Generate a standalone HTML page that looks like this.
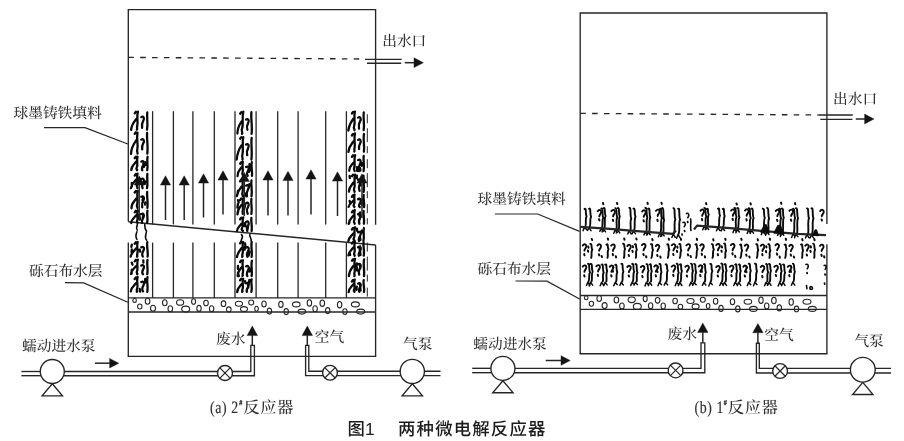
<!DOCTYPE html>
<html lang="zh-CN">
<head>
<meta charset="utf-8">
<title>图1 两种微电解反应器</title>
<style>
html,body{margin:0;padding:0;background:#fff;}
body{width:904px;height:441px;overflow:hidden;}
svg{display:block;}
svg text{text-rendering:geometricPrecision;}
body{will-change:transform;opacity:0.9999;}
svg line, svg polyline, svg circle, svg ellipse{stroke:#262626;}
.lab{font-family:"Liberation Serif","Noto Serif CJK SC",serif;fill:#303030;font-weight:500;}
.cap{font-family:"Liberation Serif","Noto Serif CJK SC",serif;fill:#2e2e2e;font-weight:500;}
.capl{font-weight:400;stroke:#2e2e2e;stroke-width:0.15;}
.ttl{font-family:"Liberation Sans","Noto Sans CJK SC",sans-serif;fill:#1c1c1c;font-weight:500;}
</style>
</head>
<body>
<svg width="904" height="441" viewBox="0 0 904 441">
<rect x="0" y="0" width="904" height="441" fill="#fff"/>
<g id="left">
<polyline points="128.30,221.50 128.30,9.65 375.60,9.65 375.60,224.80" fill="none" stroke-width="1.35" />
<line x1="128.30" y1="242.50" x2="128.30" y2="356.40" stroke-width="1.35" />
<line x1="375.60" y1="245.00" x2="375.60" y2="356.40" stroke-width="1.35" />
<line x1="128.30" y1="221.70" x2="375.60" y2="245.00" stroke-width="1.45" />
<line x1="128.30" y1="57.40" x2="365.50" y2="59.00" stroke-width="1.35" stroke-dasharray="5.6 6.26"/>
<line x1="365.00" y1="59.40" x2="401.70" y2="59.40" stroke-width="1.35" />
<line x1="367.00" y1="63.20" x2="401.20" y2="63.20" stroke-width="1.35" />
<polygon points="423.40,62.70 414.00,57.80 414.00,67.60" fill="#141414" stroke="#141414" stroke-width="0.4" stroke-linejoin="miter"/>
<line x1="404.80" y1="62.70" x2="414.50" y2="62.70" stroke-width="1.5" />
<line x1="152.60" y1="111.20" x2="152.60" y2="224.40" stroke-width="1.3" />
<line x1="152.60" y1="242.60" x2="152.60" y2="297.90" stroke-width="1.3" />
<line x1="173.40" y1="111.20" x2="173.40" y2="224.40" stroke-width="1.3" />
<line x1="173.40" y1="242.60" x2="173.40" y2="297.90" stroke-width="1.3" />
<line x1="192.90" y1="111.20" x2="192.90" y2="224.40" stroke-width="1.3" />
<line x1="192.90" y1="242.60" x2="192.90" y2="297.90" stroke-width="1.3" />
<line x1="214.30" y1="111.20" x2="214.30" y2="224.40" stroke-width="1.3" />
<line x1="214.30" y1="242.60" x2="214.30" y2="297.90" stroke-width="1.3" />
<line x1="235.00" y1="111.20" x2="235.00" y2="224.40" stroke-width="1.3" />
<line x1="235.00" y1="242.60" x2="235.00" y2="297.90" stroke-width="1.3" />
<line x1="256.10" y1="111.20" x2="256.10" y2="224.40" stroke-width="1.3" />
<line x1="256.10" y1="242.60" x2="256.10" y2="297.90" stroke-width="1.3" />
<line x1="277.70" y1="111.20" x2="277.70" y2="224.40" stroke-width="1.3" />
<line x1="277.70" y1="242.60" x2="277.70" y2="297.90" stroke-width="1.3" />
<line x1="298.10" y1="111.20" x2="298.10" y2="224.40" stroke-width="1.3" />
<line x1="298.10" y1="242.60" x2="298.10" y2="297.90" stroke-width="1.3" />
<line x1="325.70" y1="111.20" x2="325.70" y2="224.40" stroke-width="1.3" />
<line x1="325.70" y1="242.60" x2="325.70" y2="297.90" stroke-width="1.3" />
<line x1="346.40" y1="111.20" x2="346.40" y2="224.40" stroke-width="1.3" />
<line x1="346.40" y1="242.60" x2="346.40" y2="297.90" stroke-width="1.3" />
<line x1="367.30" y1="114.20" x2="367.30" y2="224.40" stroke-width="1.0" stroke-dasharray="9 5 14 4 7 6"/>
<line x1="367.30" y1="242.60" x2="367.30" y2="297.90" stroke-width="1.0" stroke-dasharray="9 5 14 4 7 6"/>
<path d="M137.9,111.6 C136.3,117.1 138.3,122.0 137.3,125.4 S138.0,128.7 136.8,129.7 M134.7,113.4 l1.2,-1.6 M136.3,119.0 C134.5,121.5 131.2,124.3 131.2,130.0 M141.3,117.1 C143.5,115.5 144.7,118.3 143.3,120.7 S141.5,124.1 142.1,127.8 M147.3,112.5 C146.5,117.1 148.3,123.0 147.0,129.7 M137.5,132.6 C136.3,139.0 138.3,144.6 137.4,148.5 S138.0,152.6 137.5,153.6 M134.7,133.9 l1.2,-1.6 M136.3,140.2 C134.5,142.7 131.2,146.9 131.0,154.0 M141.3,139.6 C143.5,138.0 144.7,140.8 143.3,143.2 S141.5,146.6 142.2,149.4 M147.1,132.9 C146.5,139.0 148.3,145.7 147.3,153.6 M137.5,156.6 C136.3,160.7 138.3,164.5 136.8,167.1 S138.0,169.2 137.0,170.2 M134.7,158.2 l1.2,-1.6 M136.3,161.5 C134.5,164.0 131.2,165.8 131.3,170.2 M141.3,161.6 C143.5,160.0 144.7,162.8 143.3,165.2 S141.5,168.6 142.2,170.2 M147.6,156.8 C146.5,160.7 148.3,165.3 147.2,170.2 M145.2,162.3 l0.7,2.4 M143.3,163.2 l0.6,3.7 M145.2,163.2 l-0.7,2.5 M137.5,173.6 C136.3,178.0 138.3,182.1 137.1,184.8 S138.0,187.1 137.3,188.1 M134.7,175.6 l1.2,-1.6 M136.3,179.5 C134.5,182.0 131.2,183.8 130.9,188.1 M141.3,179.1 C143.5,177.5 144.7,180.3 143.3,182.7 S141.5,186.1 142.6,188.1 M147.4,173.8 C146.5,178.0 148.3,182.9 147.0,188.1 M145.2,181.4 l-0.5,2.5 M131.8,182.8 l0.1,3.7 M139.7,178.7 l-0.2,3.7 M137.8,190.9 C136.3,196.0 138.3,200.7 137.2,203.8 S138.0,206.8 137.3,207.8 M134.7,192.5 l1.2,-1.6 M136.3,198.5 C134.5,201.0 131.2,203.2 131.5,208.3 M141.3,196.8 C143.5,195.2 144.7,198.0 143.3,200.4 S141.5,203.8 142.2,207.3 M147.2,191.9 C146.5,196.0 148.3,201.6 147.4,207.8 M143.3,199.2 l-0.5,3.0 M145.2,202.5 l-0.1,2.0 M143.3,197.7 l-0.8,2.5 M137.9,210.3 C136.3,214.2 138.3,217.7 137.3,220.1 S138.0,221.9 137.4,222.9 M134.7,212.4 l1.2,-1.6 M136.3,215.2 C134.5,217.7 131.2,219.1 131.3,223.1 M141.3,214.1 C143.5,212.5 144.7,215.3 143.3,217.7 S141.5,221.1 142.0,222.9 M147.5,210.6 C146.5,214.2 148.3,218.4 147.1,222.9 M139.7,214.1 l-0.7,2.3 M139.7,216.9 l0.2,2.6 M143.3,215.5 l-0.6,2.6" fill="none" stroke="#0a0a0a" stroke-width="2.3" stroke-linecap="round" stroke-linejoin="round"/>
<path d="M137.7,242.0 C136.3,246.5 138.3,250.5 137.4,253.3 S138.0,255.7 137.0,256.7 M134.7,243.8 l1.2,-1.6 M136.3,248.2 C134.5,250.7 131.2,252.5 130.7,256.7 M141.3,247.3 C143.5,245.7 144.7,248.5 143.3,250.9 S141.5,254.3 142.8,256.5 M147.3,242.2 C146.5,246.5 148.3,251.4 147.6,256.7 M131.8,249.3 l-0.2,2.9 M139.7,249.6 l0.5,2.1 M131.8,244.7 l-0.4,2.1 M137.9,259.6 C136.3,264.1 138.3,268.1 137.1,270.9 S138.0,273.2 137.2,274.2 M134.7,261.4 l1.2,-1.6 M136.3,265.9 C134.5,268.4 131.2,270.1 131.0,274.0 M141.3,265.5 C143.5,263.9 144.7,266.7 143.3,269.1 S141.5,272.5 143.0,274.2 M147.5,260.0 C146.5,264.1 148.3,268.9 147.2,274.2 M143.3,260.5 l0.1,2.2 M131.8,269.7 l-0.2,3.9 M131.8,262.6 l0.7,2.1 M137.6,277.0 C136.3,281.5 138.3,285.6 137.1,288.4 S138.0,290.8 136.8,291.8 M134.7,279.0 l1.2,-1.6 M136.3,282.9 C134.5,285.4 131.2,287.3 130.8,291.3 M141.3,282.0 C143.5,280.4 144.7,283.2 143.3,285.6 S141.5,289.0 143.0,291.3 M147.5,277.1 C146.5,281.5 148.3,286.4 147.3,291.8 M145.2,279.6 l0.1,2.9 M139.7,288.8 l0.4,2.8 M145.2,278.9 l-0.1,2.4" fill="none" stroke="#0a0a0a" stroke-width="2.3" stroke-linecap="round" stroke-linejoin="round"/>
<path d="M137.3,224.6 C136.8,226.4 135.8,228.2 137.2,230.1 M136.9,231.8 C135.9,234.3 135.0,236.7 136.9,239.3 M144.7,224.6 C144.7,226.8 144.7,229.0 146.5,231.3 M146.3,232.2 C146.2,234.8 144.0,237.5 146.7,240.2" fill="none" stroke="#0a0a0a" stroke-width="1.6" stroke-linecap="round"/>
<path d="M243.3,111.6 C241.7,118.3 243.7,124.3 242.1,128.3 S243.4,132.8 242.0,133.8 M240.1,113.7 l1.2,-1.6 M241.7,121.3 C239.9,123.8 237.4,127.5 237.4,133.6 M246.1,119.5 C248.3,117.9 249.5,120.7 248.1,123.1 S246.3,126.5 247.4,129.7 M251.4,112.1 C250.7,118.3 252.5,125.5 251.6,133.8 M243.3,137.1 C241.7,143.9 243.7,149.9 242.5,154.0 S243.4,158.5 242.4,159.5 M240.1,138.7 l1.2,-1.6 M241.7,145.2 C239.9,147.7 237.4,152.4 236.7,159.5 M246.1,144.5 C248.3,142.9 249.5,145.7 248.1,148.1 S246.3,151.5 247.2,155.2 M251.7,137.8 C250.7,143.9 252.5,151.1 251.4,159.5 M242.8,161.7 C241.7,166.0 243.7,169.9 242.5,172.6 S243.4,174.8 243.0,175.8 M240.1,163.7 l1.2,-1.6 M241.7,167.1 C239.9,169.6 237.4,171.4 237.6,176.1 M246.1,167.0 C248.3,165.4 249.5,168.2 248.1,170.6 S246.3,174.0 247.7,175.8 M251.8,162.2 C250.7,166.0 252.5,170.7 252.0,175.8 M249.4,164.1 l0.4,3.4 M249.4,169.3 l-0.4,2.6 M249.4,167.7 l0.5,2.7 M243.0,179.4 C241.7,184.5 243.7,189.2 242.5,192.3 S243.4,195.3 242.9,196.3 M240.1,181.4 l1.2,-1.6 M241.7,186.4 C239.9,188.9 237.4,191.3 236.9,196.1 M246.1,185.6 C248.3,184.0 249.5,186.8 248.1,189.2 S246.3,192.6 246.9,196.3 M251.5,180.4 C250.7,184.5 252.5,190.1 251.5,196.3 M249.4,184.2 l-0.5,3.0 M238.0,190.6 l-0.3,2.0 M245.1,193.4 l-0.6,3.1 M243.2,198.6 C241.7,203.3 243.7,207.5 242.8,210.4 S243.4,212.9 242.7,213.9 M240.1,200.0 l1.2,-1.6 M241.7,204.6 C239.9,207.1 237.4,209.2 237.5,214.4 M246.1,203.2 C248.3,201.6 249.5,204.4 248.1,206.8 S246.3,210.2 247.7,213.7 M251.4,199.0 C250.7,203.3 252.5,208.3 251.4,213.9 M238.0,200.2 l0.7,2.1 M238.0,203.6 l-0.6,3.9 M245.1,205.4 l-0.8,3.2 M243.3,217.4 C241.7,221.6 243.7,225.4 242.1,228.0 S243.4,230.0 242.9,231.0 M240.1,219.3 l1.2,-1.6 M241.7,223.5 C239.9,226.0 237.4,227.2 237.0,231.0 M246.1,221.9 C248.3,220.3 249.5,223.1 248.1,225.5 S246.3,228.9 247.3,231.0 M251.4,217.8 C250.7,221.6 252.5,226.1 251.6,231.0 M245.1,222.8 l-0.4,3.3 M248.1,226.6 l-0.8,3.6 M245.1,223.3 l0.4,3.0" fill="none" stroke="#0a0a0a" stroke-width="2.3" stroke-linecap="round" stroke-linejoin="round"/>
<path d="M243.2,242.0 C241.7,246.5 243.7,250.6 242.6,253.4 S243.4,255.8 242.1,256.8 M240.1,243.3 l1.2,-1.6 M241.7,247.9 C239.9,250.4 237.4,252.4 237.0,257.1 M246.1,247.5 C248.3,245.9 249.5,248.7 248.1,251.1 S246.3,254.5 247.4,256.8 M251.7,242.2 C250.7,246.5 252.5,251.4 251.6,256.8 M245.1,246.5 l-0.5,3.2 M245.1,243.4 l0.3,2.7 M249.4,251.7 l-0.7,3.8 M242.9,260.3 C241.7,265.1 243.7,269.4 242.9,272.3 S243.4,275.0 242.4,276.0 M240.1,262.0 l1.2,-1.6 M241.7,267.1 C239.9,269.6 237.4,271.5 237.7,276.0 M246.1,266.4 C248.3,264.8 249.5,267.6 248.1,270.0 S246.3,273.4 247.3,276.0 M251.9,260.9 C250.7,265.1 252.5,270.3 251.6,276.0 M238.0,265.8 l-0.1,3.2 M249.4,268.4 l0.1,3.3 M238.0,272.8 l0.8,3.3 M243.2,278.8 C241.7,282.8 243.7,286.4 242.6,288.9 S243.4,290.8 242.1,291.8 M240.1,280.3 l1.2,-1.6 M241.7,284.0 C239.9,286.5 237.4,287.9 237.2,292.1 M246.1,283.3 C248.3,281.7 249.5,284.5 248.1,286.9 S246.3,290.3 246.8,291.8 M251.6,279.4 C250.7,282.8 252.5,287.1 251.4,291.8 M249.4,279.8 l-0.5,3.2 M245.1,281.1 l0.3,2.1 M248.1,284.2 l0.2,3.5" fill="none" stroke="#0a0a0a" stroke-width="2.3" stroke-linecap="round" stroke-linejoin="round"/>
<path d="M241.4,234.6 C244.2,236.7 241.1,238.9 241.1,241.1 M249.8,234.6 C249.2,236.7 252.0,238.9 251.1,241.1" fill="none" stroke="#0a0a0a" stroke-width="1.6" stroke-linecap="round"/>
<path d="M354.9,111.6 C353.5,117.3 355.5,122.3 354.2,125.7 S355.2,129.2 354.4,130.2 M351.9,113.5 l1.2,-1.6 M353.5,118.4 C351.7,120.9 349.0,124.3 348.3,130.5 M358.1,117.6 C360.3,116.0 361.5,118.8 360.1,121.2 S358.3,124.6 359.0,128.6 M363.8,112.5 C362.9,117.3 364.7,123.3 363.7,130.2 M355.0,133.4 C353.5,138.9 355.5,143.9 354.6,147.2 S355.2,150.6 354.3,151.6 M351.9,135.5 l1.2,-1.6 M353.5,141.3 C351.7,143.8 349.0,146.4 348.4,151.8 M358.1,139.9 C360.3,138.3 361.5,141.1 360.1,143.5 S358.3,146.9 359.1,149.0 M364.0,134.0 C362.9,138.9 364.7,144.9 363.9,151.6 M355.1,155.2 C353.5,160.0 355.5,164.4 354.2,167.4 S355.2,170.1 354.6,171.1 M351.9,156.9 l1.2,-1.6 M353.5,162.6 C351.7,165.1 349.0,166.9 349.2,170.7 M358.1,160.1 C360.3,158.5 361.5,161.3 360.1,163.7 S358.3,167.1 359.0,171.0 M363.7,155.9 C362.9,160.0 364.7,165.3 363.6,171.1 M361.6,163.0 l0.1,2.8 M356.9,167.1 l0.3,3.9 M360.1,168.2 l0.3,2.3 M355.1,174.7 C353.5,180.0 355.5,184.7 354.3,187.9 S355.2,190.9 354.5,191.9 M351.9,176.2 l1.2,-1.6 M353.5,182.5 C351.7,185.0 349.0,187.2 348.9,191.7 M358.1,179.9 C360.3,178.3 361.5,181.1 360.1,183.5 S358.3,186.9 359.6,190.9 M363.5,175.6 C362.9,180.0 364.7,185.6 363.7,191.9 M356.9,175.6 l-0.1,2.8 M349.6,175.9 l0.2,2.1 M360.1,182.9 l0.7,2.6 M354.6,194.5 C353.5,198.4 355.5,201.9 354.0,204.3 S355.2,206.1 354.3,207.1 M351.9,196.8 l1.2,-1.6 M353.5,200.5 C351.7,203.0 349.0,203.8 348.6,206.9 M358.1,199.2 C360.3,197.6 361.5,200.4 360.1,202.8 S358.3,206.2 359.8,207.1 M363.7,194.8 C362.9,198.4 364.7,202.6 364.1,207.1 M361.6,199.3 l0.0,3.3 M349.6,200.8 l0.7,3.0 M361.6,200.9 l0.3,3.9 M354.8,210.0 C353.5,214.2 355.5,218.0 354.2,220.6 S355.2,222.7 354.6,223.7 M351.9,212.3 l1.2,-1.6 M353.5,215.4 C351.7,217.9 349.0,219.6 348.7,223.8 M358.1,214.2 C360.3,212.6 361.5,215.4 360.1,217.8 S358.3,221.2 359.4,223.7 M363.7,211.0 C362.9,214.2 364.7,218.8 363.9,223.7 M360.1,218.2 l-0.8,2.1 M349.6,220.5 l-0.4,2.9 M360.1,212.4 l-0.5,3.5 M355.1,227.2 C353.5,231.4 355.5,235.3 354.0,237.9 S355.2,240.0 354.6,241.0 M351.9,229.5 l1.2,-1.6 M353.5,233.3 C351.7,235.8 349.0,237.1 348.4,241.0 M358.1,232.3 C360.3,230.7 361.5,233.5 360.1,235.9 S358.3,239.3 359.0,241.0 M363.9,228.0 C362.9,231.4 364.7,236.0 363.4,241.0 M360.1,237.6 l0.3,2.4 M356.9,228.7 l0.4,2.4 M361.6,230.6 l0.5,2.1" fill="none" stroke="#0a0a0a" stroke-width="2.3" stroke-linecap="round" stroke-linejoin="round"/>
<path d="M355.0,242.0 C353.5,246.2 355.5,250.0 354.4,252.6 S355.2,254.7 354.6,255.7 M351.9,243.5 l1.2,-1.6 M353.5,247.3 C351.7,249.8 349.0,251.5 348.4,255.4 M358.1,247.2 C360.3,245.6 361.5,248.4 360.1,250.8 S358.3,254.2 358.9,255.7 M363.6,242.4 C362.9,246.2 364.7,250.8 363.7,255.7 M349.6,252.8 l0.5,2.2 M360.1,251.1 l0.4,3.9 M360.1,246.3 l-0.4,3.8 M355.0,258.8 C353.5,264.0 355.5,268.8 354.6,272.0 S355.2,275.1 354.4,276.1 M351.9,260.7 l1.2,-1.6 M353.5,265.6 C351.7,268.1 349.0,270.9 348.9,276.2 M358.1,264.4 C360.3,262.8 361.5,265.6 360.1,268.0 S358.3,271.4 359.2,274.6 M364.1,259.3 C362.9,264.0 364.7,269.7 364.0,276.1 M356.9,263.5 l-0.5,2.7 M360.1,265.8 l0.2,2.8 M356.9,267.4 l0.1,3.1 M354.7,279.7 C353.5,283.4 355.5,286.8 354.2,289.2 S355.2,290.8 354.4,291.8 M351.9,281.5 l1.2,-1.6 M353.5,284.1 C351.7,286.6 349.0,287.9 348.7,292.2 M358.1,283.6 C360.3,282.0 361.5,284.8 360.1,287.2 S358.3,290.6 359.3,291.8 M363.7,280.1 C362.9,283.4 364.7,287.5 364.0,291.8 M360.1,288.0 l0.5,2.4 M360.1,284.8 l0.3,3.8 M356.9,286.6 l-0.5,3.2" fill="none" stroke="#0a0a0a" stroke-width="2.3" stroke-linecap="round" stroke-linejoin="round"/>
<path d="" fill="none" stroke="#0a0a0a" stroke-width="1.6" stroke-linecap="round"/>
<polygon points="139.20,175.80 134.10,185.10 144.30,185.10" fill="#141414" stroke="#141414" stroke-width="0.4" stroke-linejoin="miter"/>
<line x1="139.20" y1="184.60" x2="139.20" y2="220.50" stroke-width="1.5" />
<polygon points="165.50,175.80 160.40,185.10 170.60,185.10" fill="#141414" stroke="#141414" stroke-width="0.4" stroke-linejoin="miter"/>
<line x1="165.50" y1="184.60" x2="165.50" y2="220.00" stroke-width="1.5" />
<polygon points="184.20,175.80 179.10,185.10 189.30,185.10" fill="#141414" stroke="#141414" stroke-width="0.4" stroke-linejoin="miter"/>
<line x1="184.20" y1="184.60" x2="184.20" y2="220.00" stroke-width="1.5" />
<polygon points="203.50,173.80 198.40,183.10 208.60,183.10" fill="#141414" stroke="#141414" stroke-width="0.4" stroke-linejoin="miter"/>
<line x1="203.50" y1="182.60" x2="203.50" y2="217.50" stroke-width="1.5" />
<polygon points="223.00,170.80 217.90,180.10 228.10,180.10" fill="#141414" stroke="#141414" stroke-width="0.4" stroke-linejoin="miter"/>
<line x1="223.00" y1="179.60" x2="223.00" y2="214.50" stroke-width="1.5" />
<polygon points="244.30,172.30 239.20,181.60 249.40,181.60" fill="#141414" stroke="#141414" stroke-width="0.4" stroke-linejoin="miter"/>
<line x1="244.30" y1="181.10" x2="244.30" y2="216.00" stroke-width="1.5" />
<polygon points="268.00,170.80 262.90,180.10 273.10,180.10" fill="#141414" stroke="#141414" stroke-width="0.4" stroke-linejoin="miter"/>
<line x1="268.00" y1="179.60" x2="268.00" y2="215.50" stroke-width="1.5" />
<polygon points="288.00,171.30 282.90,180.60 293.10,180.60" fill="#141414" stroke="#141414" stroke-width="0.4" stroke-linejoin="miter"/>
<line x1="288.00" y1="180.10" x2="288.00" y2="215.50" stroke-width="1.5" />
<polygon points="311.00,169.80 305.90,179.10 316.10,179.10" fill="#141414" stroke="#141414" stroke-width="0.4" stroke-linejoin="miter"/>
<line x1="311.00" y1="178.60" x2="311.00" y2="214.50" stroke-width="1.5" />
<polygon points="337.50,171.80 332.40,181.10 342.60,181.10" fill="#141414" stroke="#141414" stroke-width="0.4" stroke-linejoin="miter"/>
<line x1="337.50" y1="180.60" x2="337.50" y2="216.00" stroke-width="1.5" />
<polygon points="362.00,173.80 356.90,183.10 367.10,183.10" fill="#141414" stroke="#141414" stroke-width="0.4" stroke-linejoin="miter"/>
<line x1="362.00" y1="182.60" x2="362.00" y2="218.00" stroke-width="1.5" />
<polyline points="44.00,127.60 85.00,127.60 127.80,144.00" fill="none" stroke-width="1.2" />
<polyline points="65.00,282.60 83.70,282.90 127.80,302.20" fill="none" stroke-width="1.2" />
<line x1="128.30" y1="297.90" x2="375.60" y2="297.90" stroke-width="1.35" />
<line x1="128.30" y1="312.00" x2="375.60" y2="312.00" stroke-width="1.35" />
<ellipse cx="134.60" cy="300.40" rx="1.80" ry="2.00" fill="none" stroke-width="1.1"/>
<ellipse cx="139.80" cy="306.50" rx="2.20" ry="2.50" fill="none" stroke-width="1.1"/>
<ellipse cx="147.60" cy="301.20" rx="2.30" ry="3.00" fill="none" stroke-width="1.1"/>
<ellipse cx="153.00" cy="308.30" rx="2.50" ry="3.00" fill="none" stroke-width="1.1"/>
<ellipse cx="164.80" cy="302.70" rx="2.30" ry="3.00" fill="none" stroke-width="1.1"/>
<ellipse cx="170.30" cy="308.70" rx="2.30" ry="3.00" fill="none" stroke-width="1.1"/>
<ellipse cx="180.10" cy="302.50" rx="3.60" ry="2.80" fill="none" stroke-width="1.1"/>
<ellipse cx="185.70" cy="309.10" rx="4.00" ry="3.00" fill="none" stroke-width="1.1"/>
<ellipse cx="193.60" cy="301.50" rx="2.00" ry="2.80" fill="none" stroke-width="1.1"/>
<ellipse cx="199.00" cy="308.40" rx="2.20" ry="3.00" fill="none" stroke-width="1.1"/>
<ellipse cx="206.00" cy="303.00" rx="2.30" ry="2.80" fill="none" stroke-width="1.1"/>
<ellipse cx="211.60" cy="308.70" rx="2.20" ry="3.00" fill="none" stroke-width="1.1"/>
<ellipse cx="223.50" cy="303.70" rx="2.30" ry="2.80" fill="none" stroke-width="1.1"/>
<ellipse cx="228.80" cy="309.40" rx="2.30" ry="2.50" fill="none" stroke-width="1.1"/>
<ellipse cx="238.90" cy="303.70" rx="3.60" ry="2.50" fill="none" stroke-width="1.1"/>
<ellipse cx="244.00" cy="309.10" rx="3.50" ry="2.50" fill="none" stroke-width="1.1"/>
<ellipse cx="251.20" cy="302.50" rx="2.50" ry="2.50" fill="none" stroke-width="1.1"/>
<ellipse cx="256.50" cy="308.70" rx="1.80" ry="2.50" fill="none" stroke-width="1.1"/>
<ellipse cx="264.00" cy="304.00" rx="2.20" ry="3.00" fill="none" stroke-width="1.1"/>
<ellipse cx="269.40" cy="311.10" rx="2.20" ry="3.00" fill="none" stroke-width="1.1"/>
<ellipse cx="280.90" cy="304.40" rx="2.20" ry="3.00" fill="none" stroke-width="1.1"/>
<ellipse cx="286.20" cy="311.60" rx="2.20" ry="3.00" fill="none" stroke-width="1.1"/>
<ellipse cx="296.30" cy="304.40" rx="3.80" ry="2.50" fill="none" stroke-width="1.1"/>
<ellipse cx="301.80" cy="311.60" rx="3.80" ry="2.50" fill="none" stroke-width="1.1"/>
<ellipse cx="309.40" cy="302.90" rx="2.20" ry="3.20" fill="none" stroke-width="1.1"/>
<ellipse cx="315.10" cy="308.70" rx="2.20" ry="3.00" fill="none" stroke-width="1.1"/>
<ellipse cx="322.30" cy="303.20" rx="2.30" ry="3.20" fill="none" stroke-width="1.1"/>
<ellipse cx="327.70" cy="310.60" rx="2.20" ry="3.00" fill="none" stroke-width="1.1"/>
<ellipse cx="339.60" cy="304.70" rx="2.20" ry="3.20" fill="none" stroke-width="1.1"/>
<ellipse cx="344.90" cy="311.60" rx="2.20" ry="2.80" fill="none" stroke-width="1.1"/>
<ellipse cx="355.40" cy="304.40" rx="4.00" ry="2.50" fill="none" stroke-width="1.1"/>
<ellipse cx="360.70" cy="311.60" rx="4.00" ry="2.50" fill="none" stroke-width="1.1"/>
<line x1="127.70" y1="356.40" x2="376.20" y2="356.40" stroke-width="1.35" />
<line x1="21.40" y1="371.50" x2="52.30" y2="371.50" stroke-width="1.35" />
<line x1="21.40" y1="375.70" x2="52.30" y2="375.70" stroke-width="1.35" />
<line x1="52.30" y1="371.50" x2="225.00" y2="371.50" stroke-width="1.35" />
<line x1="52.30" y1="375.70" x2="225.00" y2="375.70" stroke-width="1.35" />
<polyline points="225.00,371.50 250.80,371.50 250.80,345.40 254.40,345.40 254.40,375.70 225.00,375.70" fill="none" stroke-width="1.35" />
<circle cx="52.30" cy="371.50" r="12.00" fill="#fff" stroke-width="1.35"/>
<polyline points="52.30,383.80 42.10,395.80 62.50,395.80 52.30,383.80" fill="none" stroke-width="1.35" stroke-linejoin="miter"/>
<circle cx="225.00" cy="373.00" r="7.50" fill="#fff" stroke-width="1.35"/>
<line x1="219.70" y1="367.70" x2="230.30" y2="378.30" stroke-width="1.2" />
<line x1="219.70" y1="378.30" x2="230.30" y2="367.70" stroke-width="1.2" />
<polygon points="252.30,326.00 247.10,335.60 257.50,335.60" fill="#141414" stroke="#141414" stroke-width="0.4" stroke-linejoin="miter"/>
<line x1="252.30" y1="335.10" x2="252.30" y2="345.40" stroke-width="1.5" />
<polyline points="440.50,371.20 308.80,371.20 308.80,345.40 305.60,345.40 305.60,375.60 440.50,375.60" fill="none" stroke-width="1.35" />
<circle cx="412.30" cy="371.40" r="12.10" fill="#fff" stroke-width="1.35"/>
<polyline points="412.30,383.80 402.10,395.90 422.50,395.90 412.30,383.80" fill="none" stroke-width="1.35" />
<circle cx="330.00" cy="372.80" r="7.40" fill="#fff" stroke-width="1.35"/>
<line x1="324.77" y1="367.57" x2="335.23" y2="378.03" stroke-width="1.2" />
<line x1="324.77" y1="378.03" x2="335.23" y2="367.57" stroke-width="1.2" />
<polygon points="307.30,326.00 302.10,335.60 312.50,335.60" fill="#141414" stroke="#141414" stroke-width="0.4" stroke-linejoin="miter"/>
<line x1="307.30" y1="335.10" x2="307.30" y2="345.40" stroke-width="1.5" />
<polygon points="118.80,363.20 109.60,358.40 109.60,368.00" fill="#141414" stroke="#141414" stroke-width="0.4" stroke-linejoin="miter"/>
<line x1="95.00" y1="363.20" x2="110.10" y2="363.20" stroke-width="1.5" />
<text x="22.00" y="351.30" font-size="14.7" class="lab" >蠕动进水泵</text>
<text x="216.00" y="343.60" font-size="14.7" class="lab" >废水</text>
<text x="314.70" y="341.60" font-size="14.7" class="lab" >空气</text>
<text x="403.00" y="349.30" font-size="14.7" class="lab" >气泵</text>
<text x="13.50" y="117.80" font-size="14.7" class="lab" >球墨铸铁填料</text>
<text x="29.00" y="276.40" font-size="14.7" class="lab" >砾石布水层</text>
<text x="382.20" y="46.40" font-size="14.7" class="lab" >出水口</text>
<text transform="translate(210.10,412.70) scale(0.80,1)" font-size="17.3" letter-spacing="0.7" class="cap capl">(a) 2</text>
<text transform="translate(239.20,405.00) scale(0.85,1)" font-size="7.2" class="cap capl" style="stroke-width:0.35">#</text>
<text x="243.30" y="413.00" font-size="16.3" letter-spacing="0.6" class="cap">反应器</text>
</g>
<g id="right">
<polyline points="580.20,353.70 580.20,13.00 826.90,13.00 826.90,224.00" fill="none" stroke-width="1.35" />
<line x1="826.90" y1="244.30" x2="826.90" y2="353.70" stroke-width="1.35" />
<line x1="580.20" y1="113.40" x2="818.60" y2="115.00" stroke-width="1.35" stroke-dasharray="5.6 6.26"/>
<line x1="818.60" y1="115.00" x2="852.80" y2="115.00" stroke-width="1.35" />
<line x1="820.40" y1="119.40" x2="852.40" y2="119.40" stroke-width="1.35" />
<polygon points="874.00,119.00 864.60,114.10 864.60,123.90" fill="#141414" stroke="#141414" stroke-width="0.4" stroke-linejoin="miter"/>
<line x1="855.80" y1="119.00" x2="865.10" y2="119.00" stroke-width="1.5" />
<path d="M584.6,208.9 C586.7,207.6 585.1,213.8 586.6,216.3 C584.9,218.8 586.6,223.5 585.4,226.5 M589.1,208.8 C591.2,207.2 589.6,214.1 591.1,216.6 C589.4,219.1 591.1,223.9 589.7,226.9 M601.3,208.6 C603.4,207.7 601.8,215.3 603.3,217.8 C601.6,220.3 603.3,224.8 601.9,227.8 M603.6,208.1 C605.7,207.1 604.1,213.5 605.6,216.0 C603.9,218.5 605.6,225.0 604.4,228.0 M615.3,208.1 C617.4,208.1 615.8,214.6 617.3,217.1 C615.6,219.6 617.3,225.9 616.5,228.9 M617.8,208.1 C619.9,207.2 618.3,214.1 619.8,216.6 C618.1,219.1 619.8,226.1 618.8,229.1 M629.3,207.8 C631.4,207.3 629.8,216.1 631.3,218.6 C629.6,221.1 631.3,227.0 630.5,230.0 M633.5,208.6 C635.6,207.9 634.0,214.2 635.5,216.7 C633.8,219.2 635.5,227.3 634.2,230.3 M645.4,207.9 C647.5,207.2 645.9,215.0 647.4,217.5 C645.7,220.0 647.4,228.3 646.4,231.3 M648.3,208.7 C650.4,207.2 648.8,215.0 650.3,217.5 C648.6,220.0 650.3,228.5 649.2,231.5 M659.9,208.9 C662.0,207.3 660.4,215.7 661.9,218.2 C660.2,220.7 661.9,229.4 660.6,232.4 M662.2,208.1 C664.3,207.4 662.7,217.8 664.2,220.3 C662.5,222.8 664.2,229.6 663.2,232.6 M673.4,208.1 C675.5,207.7 673.9,217.0 675.4,219.5 C673.7,222.0 675.4,230.4 674.1,233.4 M678.1,208.8 C680.2,207.3 678.6,217.1 680.1,219.6 C678.4,222.1 680.1,230.8 678.6,233.8 M704.3,208.0 C706.4,208.1 704.8,214.1 706.3,216.6 C704.6,219.1 706.3,222.6 705.4,225.6 M706.7,209.0 C708.8,207.3 707.2,212.3 708.7,214.8 C707.0,217.3 708.7,222.8 707.7,225.8 M718.0,208.7 C720.1,207.2 718.5,213.0 720.0,215.5 C718.3,218.0 720.0,223.8 718.6,226.8 M722.7,208.9 C724.8,207.3 723.2,213.4 724.7,215.9 C723.0,218.4 724.7,224.1 723.1,227.1 M734.5,208.0 C736.6,207.5 735.0,214.5 736.5,217.0 C734.8,219.5 736.5,225.2 735.6,228.2 M737.4,208.0 C739.5,207.1 737.9,214.7 739.4,217.2 C737.7,219.7 739.4,225.4 737.8,228.4 M748.7,208.2 C750.8,208.1 749.2,215.5 750.7,218.0 C749.0,220.5 750.7,226.3 749.2,229.3 M751.6,208.6 C753.7,207.9 752.1,215.6 753.6,218.1 C751.9,220.6 753.6,226.6 752.7,229.6 M762.8,208.7 C764.9,208.0 763.3,215.2 764.8,217.7 C763.1,220.2 764.8,227.5 763.6,230.5 M767.1,207.9 C769.2,207.7 767.6,215.9 769.1,218.4 C767.4,220.9 769.1,227.9 768.3,230.9 M779.1,208.8 C781.2,207.2 779.6,215.9 781.1,218.4 C779.4,220.9 781.1,228.9 780.1,231.9 M781.8,208.6 C783.9,207.6 782.3,215.3 783.8,217.8 C782.1,220.3 783.8,229.1 782.7,232.1 M793.1,208.9 C795.2,207.8 793.6,215.6 795.1,218.1 C793.4,220.6 795.1,230.1 793.8,233.1 M796.0,208.3 C798.1,207.9 796.5,215.7 798.0,218.2 C796.3,220.7 798.0,230.3 797.1,233.3 M807.0,208.4 C809.1,207.9 807.5,215.8 809.0,218.3 C807.3,220.8 809.0,230.8 808.1,233.8 M811.5,208.3 C813.6,207.4 812.0,215.9 813.5,218.4 C811.8,220.9 813.5,231.0 812.1,234.0" fill="none" stroke="#0a0a0a" stroke-width="1.9" stroke-linecap="round" stroke-linejoin="round"/>
<path d="M597.7,211.2 C598.9,209.2 601.7,209.8 601.1,212.6 C600.7,214.2 599.5,214.6 599.3,216.4 M611.5,211.1 C612.7,209.1 615.5,209.7 614.9,212.5 C614.5,214.1 613.3,214.5 613.1,216.3 M642.2,211.5 C643.4,209.5 646.2,210.1 645.6,212.9 C645.2,214.5 644.0,214.9 643.8,216.7 M656.0,210.8 C657.2,208.8 660.0,209.4 659.4,212.2 C659.0,213.8 657.8,214.2 657.6,216.0 M700.5,210.7 C701.7,208.7 704.5,209.3 703.9,212.1 C703.5,213.7 702.3,214.1 702.1,215.9 M731.2,210.6 C732.4,208.6 735.2,209.2 734.6,212.0 C734.2,213.6 733.0,214.0 732.8,215.8 M745.0,210.5 C746.2,208.5 749.0,209.1 748.4,211.9 C748.0,213.5 746.8,213.9 746.6,215.7 M775.7,210.9 C776.9,208.9 779.7,209.5 779.1,212.3 C778.7,213.9 777.5,214.3 777.3,216.1 M789.5,210.8 C790.7,208.8 793.5,209.4 792.9,212.2 C792.5,213.8 791.3,214.2 791.1,216.0 M820.2,211.0 C821.4,209.0 824.2,209.6 823.6,212.4 C823.2,214.0 822.0,214.4 821.8,216.2" fill="none" stroke="#0a0a0a" stroke-width="1.9" stroke-linecap="round" stroke-linejoin="round"/>
<path d="M583.1,230.6 L584.5,227.3 L586.5,229.6 M587.6,230.5 L589.0,227.7 L591.0,230.6 M599.8,231.3 L601.2,228.6 L603.2,231.2 M602.1,232.0 L603.5,228.8 L605.5,231.8 M613.8,233.2 L615.2,229.7 L617.2,232.5 M616.3,233.0 L617.7,229.9 L619.7,232.9 M627.8,233.9 L629.2,230.8 L631.2,233.9 M632.0,233.9 L633.4,231.1 L635.4,233.6 M643.9,234.9 L645.3,232.1 L647.3,234.7 M646.8,235.1 L648.2,232.3 L650.2,234.8 M658.4,236.7 L659.8,233.2 L661.8,235.9 M660.7,236.4 L662.1,233.4 L664.1,235.8 M671.9,237.4 L673.3,234.2 L675.3,237.3 M676.6,238.2 L678.0,234.6 L680.0,237.5 M702.8,229.7 L704.2,226.4 L706.2,228.9 M705.2,229.6 L706.6,226.6 L708.6,229.5 M716.5,230.8 L717.9,227.6 L719.9,230.5 M721.2,230.9 L722.6,227.9 L724.6,230.5 M733.0,232.6 L734.4,229.0 L736.4,231.7 M735.9,232.8 L737.3,229.2 L739.3,232.0 M747.2,233.4 L748.6,230.1 L750.6,233.0 M750.1,233.4 L751.5,230.4 L753.5,233.1 M761.3,234.6 L762.7,231.3 L764.7,233.8 M765.6,235.3 L767.0,231.7 L769.0,234.5 M777.6,235.4 L779.0,232.7 L781.0,235.4 M780.3,236.5 L781.7,232.9 L783.7,235.3 M791.6,237.5 L793.0,233.9 L795.0,236.3 M794.5,237.7 L795.9,234.1 L797.9,236.6 M805.5,238.0 L806.9,234.6 L808.9,237.7 M810.0,238.0 L811.4,234.8 L813.4,237.6" fill="none" stroke="#0a0a0a" stroke-width="1.5" stroke-linecap="round" stroke-linejoin="round"/>
<path d="M599.1,219.3l0.3,1.2 M603.0,203.0l0.3,1.2 M612.9,219.7l0.3,1.2 M617.0,202.9l0.3,1.2 M643.6,220.3l0.3,1.2 M647.5,202.8l0.3,1.2 M657.4,219.8l0.3,1.2 M661.5,202.7l0.3,1.2 M701.9,219.0l0.3,1.2 M706.0,203.1l0.3,1.2 M732.6,218.8l0.3,1.2 M736.5,203.4l0.3,1.2 M746.4,219.3l0.3,1.2 M750.5,203.3l0.3,1.2 M777.1,219.7l0.3,1.2 M781.0,202.6l0.3,1.2 M790.9,219.6l0.3,1.2 M795.0,203.1l0.3,1.2 M821.6,219.4l0.3,1.2" fill="none" stroke="#0a0a0a" stroke-width="2.0" stroke-linecap="round"/>
<path d="M683,222.5c2.6,-1.2 2.8,2.4 1.2,4.2 M686.5,213.5c2.6,-1.2 2.8,2.4 1.2,4.2 M690.6,219c0.8,3 -0.6,7 0.4,11.5 M806,264.5c2.6,-1.2 2.8,2.4 1.2,4.2 M824.2,265.5c2.2,-1 2.4,2.2 1,3.8 M806.5,285.5l0.4,3.2 M811,286.5c-1.6,0.4 -1.6,3 0.2,3 c1.8,0 1.6,-2.8 -0.2,-3" fill="none" stroke="#0a0a0a" stroke-width="1.6" stroke-linecap="round"/>
<path d="M684.5,230.5l0.2,1 M687.6,221.5l0.2,1 M682,234l0.2,1 M807,272.5l0.2,1 M825,274l0.2,1 M824.5,283l0.2,1.2" fill="none" stroke="#0a0a0a" stroke-width="1.7" stroke-linecap="round"/>
<path d="M590.3,243.9 C592.4,243.7 590.8,247.2 592.3,249.7 C590.6,252.2 592.3,254.8 591.2,257.8 M606.5,244.7 C608.6,243.0 607.0,246.8 608.5,249.3 C606.8,251.8 608.5,254.8 607.5,257.8 M623.1,243.7 C625.2,243.8 623.6,246.5 625.1,249.0 C623.4,251.5 625.1,254.8 623.9,257.8 M634.8,244.3 C636.9,243.1 635.3,247.1 636.8,249.6 C635.1,252.1 636.8,254.8 635.8,257.8 M651.0,244.2 C653.1,243.3 651.5,247.5 653.0,250.0 C651.3,252.5 653.0,254.8 651.4,257.8 M667.3,244.4 C669.4,243.6 667.8,247.1 669.3,249.6 C667.6,252.1 669.3,254.8 667.8,257.8 M679.3,244.1 C681.4,243.4 679.8,247.9 681.3,250.4 C679.6,252.9 681.3,254.8 679.8,257.8 M695.5,244.4 C697.6,242.9 696.0,246.8 697.5,249.3 C695.8,251.8 697.5,254.8 696.1,257.8 M711.8,244.2 C713.9,243.9 712.3,247.0 713.8,249.5 C712.1,252.0 713.8,254.8 712.5,257.8 M724.1,243.6 C726.2,243.2 724.6,248.1 726.1,250.6 C724.4,253.1 726.1,254.8 725.1,257.8 M740.1,244.8 C742.2,243.4 740.6,248.2 742.1,250.7 C740.4,253.2 742.1,254.8 740.5,257.8 M756.3,244.2 C758.4,243.5 756.8,247.4 758.3,249.9 C756.6,252.4 758.3,254.8 756.9,257.8 M768.4,244.2 C770.5,243.6 768.9,248.1 770.4,250.6 C768.7,253.1 770.4,254.8 769.4,257.8 M784.6,244.7 C786.7,243.3 785.1,246.7 786.6,249.2 C784.9,251.7 786.6,254.8 785.2,257.8 M801.1,244.5 C803.2,243.3 801.6,248.2 803.1,250.7 C801.4,253.2 803.1,254.8 802.0,257.8 M813.1,243.6 C815.2,243.6 813.6,247.5 815.1,250.0 C813.4,252.5 815.1,254.8 814.2,257.8" fill="none" stroke="#0a0a0a" stroke-width="1.9" stroke-linecap="round" stroke-linejoin="round"/>
<path d="M582.8,245.4 C584.0,243.4 586.8,244.0 586.2,246.8 C585.8,248.4 584.6,248.8 584.4,250.6 M597.5,245.5 C598.7,243.5 601.5,244.1 600.9,246.9 C600.5,248.5 599.3,248.9 599.1,250.7 M611.3,245.6 C612.5,243.6 615.3,244.2 614.7,247.0 C614.3,248.6 613.1,249.0 612.9,250.8 M627.3,245.9 C628.5,243.9 631.3,244.5 630.7,247.3 C630.3,248.9 629.1,249.3 628.9,251.1 M642.0,245.1 C643.2,243.1 646.0,243.7 645.4,246.5 C645.0,248.1 643.8,248.5 643.6,250.3 M655.8,245.9 C657.0,243.9 659.8,244.5 659.2,247.3 C658.8,248.9 657.6,249.3 657.4,251.1 M671.8,245.3 C673.0,243.3 675.8,243.9 675.2,246.7 C674.8,248.3 673.6,248.7 673.4,250.5 M686.5,245.3 C687.7,243.3 690.5,243.9 689.9,246.7 C689.5,248.3 688.3,248.7 688.1,250.5 M700.3,245.5 C701.5,243.5 704.3,244.1 703.7,246.9 C703.3,248.5 702.1,248.9 701.9,250.7 M716.3,245.1 C717.5,243.1 720.3,243.7 719.7,246.5 C719.3,248.1 718.1,248.5 717.9,250.3 M731.0,245.1 C732.2,243.1 735.0,243.7 734.4,246.5 C734.0,248.1 732.8,248.5 732.6,250.3 M744.8,245.7 C746.0,243.7 748.8,244.3 748.2,247.1 C747.8,248.7 746.6,249.1 746.4,250.9 M760.8,245.8 C762.0,243.8 764.8,244.4 764.2,247.2 C763.8,248.8 762.6,249.2 762.4,251.0 M775.5,245.2 C776.7,243.2 779.5,243.8 778.9,246.6 C778.5,248.2 777.3,248.6 777.1,250.4 M789.3,245.9 C790.5,243.9 793.3,244.5 792.7,247.3 C792.3,248.9 791.1,249.3 790.9,251.1 M805.3,245.7 C806.5,243.7 809.3,244.3 808.7,247.1 C808.3,248.7 807.1,249.1 806.9,250.9 M820.0,245.8 C821.2,243.8 824.0,244.4 823.4,247.2 C823.0,248.8 821.8,249.2 821.6,251.0" fill="none" stroke="#0a0a0a" stroke-width="1.9" stroke-linecap="round" stroke-linejoin="round"/>
<path d="M584.2,254.1l0.3,1.2 M588.2,246.5l0.3,1.2 M587.9,250.5l0.3,1.2 M591.8,238.9l0.3,1.2 M598.9,254.2l0.3,1.2 M601.6,255.9l0.3,1.2 M607.8,238.5l0.3,1.2 M612.7,254.0l0.3,1.2 M615.8,256.2l0.3,1.2 M624.2,238.5l0.3,1.2 M628.7,254.9l0.3,1.2 M632.7,246.1l0.3,1.2 M632.4,250.7l0.3,1.2 M636.3,238.4l0.3,1.2 M643.4,254.0l0.3,1.2 M646.1,256.2l0.3,1.2 M652.3,239.0l0.3,1.2 M657.2,254.9l0.3,1.2 M660.3,256.5l0.3,1.2 M668.7,238.6l0.3,1.2 M673.2,253.9l0.3,1.2 M677.2,246.6l0.3,1.2 M676.9,250.8l0.3,1.2 M680.8,238.7l0.3,1.2 M687.9,254.2l0.3,1.2 M690.6,255.9l0.3,1.2 M696.8,238.7l0.3,1.2 M701.7,253.7l0.3,1.2 M704.8,256.3l0.3,1.2 M713.2,239.2l0.3,1.2 M717.7,254.1l0.3,1.2 M721.7,246.3l0.3,1.2 M721.4,250.6l0.3,1.2 M725.3,238.7l0.3,1.2 M732.4,253.3l0.3,1.2 M735.1,255.8l0.3,1.2 M741.3,238.7l0.3,1.2 M746.2,254.6l0.3,1.2 M749.3,256.4l0.3,1.2 M757.7,239.2l0.3,1.2 M762.2,254.1l0.3,1.2 M766.2,246.2l0.3,1.2 M765.9,251.1l0.3,1.2 M769.8,238.6l0.3,1.2 M776.9,253.5l0.3,1.2 M779.6,256.5l0.3,1.2 M785.8,238.7l0.3,1.2 M790.7,254.5l0.3,1.2 M793.8,256.4l0.3,1.2 M802.2,239.1l0.3,1.2 M806.7,254.4l0.3,1.2 M810.7,246.3l0.3,1.2 M810.4,250.7l0.3,1.2 M814.3,239.0l0.3,1.2 M821.4,254.8l0.3,1.2 M824.1,256.3l0.3,1.2" fill="none" stroke="#0a0a0a" stroke-width="2.0" stroke-linecap="round"/>
<path d="M588.0,263.8 C590.1,263.1 588.5,269.9 590.0,272.4 C588.3,274.9 590.0,278.6 588.5,281.6 M590.7,263.9 C592.8,263.2 591.2,269.2 592.7,271.7 C591.0,274.2 592.7,278.6 591.5,281.6 M601.7,264.6 C603.8,263.7 602.2,269.9 603.7,272.4 C602.0,274.9 603.7,278.6 602.8,281.6 M605.2,264.6 C607.3,263.4 605.7,268.6 607.2,271.1 C605.5,273.6 607.2,278.6 606.3,281.6 M615.3,264.8 C617.4,263.6 615.8,269.7 617.3,272.2 C615.6,274.7 617.3,278.6 616.1,281.6 M621.4,263.8 C623.5,263.1 621.9,269.0 623.4,271.5 C621.7,274.0 623.4,278.6 622.2,281.6 M632.2,263.9 C634.3,263.1 632.7,269.1 634.2,271.6 C632.5,274.1 634.2,278.6 632.8,281.6 M635.5,264.1 C637.6,263.6 636.0,270.1 637.5,272.6 C635.8,275.1 637.5,278.6 636.6,281.6 M646.5,264.1 C648.6,263.8 647.0,268.3 648.5,270.8 C646.8,273.3 648.5,278.6 647.6,281.6 M649.8,264.5 C651.9,263.0 650.3,268.8 651.8,271.3 C650.1,273.8 651.8,278.6 651.0,281.6 M659.5,264.0 C661.6,263.2 660.0,269.6 661.5,272.1 C659.8,274.6 661.5,278.6 660.1,281.6 M665.7,264.4 C667.8,263.5 666.2,268.1 667.7,270.6 C666.0,273.1 667.7,278.6 666.5,281.6 M676.7,263.7 C678.8,263.2 677.2,270.2 678.7,272.7 C677.0,275.2 678.7,278.6 677.3,281.6 M679.9,264.6 C682.0,262.9 680.4,268.8 681.9,271.3 C680.2,273.8 681.9,278.6 680.6,281.6 M691.0,263.6 C693.1,263.4 691.5,268.6 693.0,271.1 C691.3,273.6 693.0,278.6 692.1,281.6 M694.2,263.9 C696.3,263.5 694.7,269.9 696.2,272.4 C694.5,274.9 696.2,278.6 694.9,281.6 M703.9,264.3 C706.0,262.9 704.4,269.7 705.9,272.2 C704.2,274.7 705.9,278.6 704.9,281.6 M710.3,263.9 C712.4,263.3 710.8,268.7 712.3,271.2 C710.6,273.7 712.3,278.6 710.8,281.6 M721.3,263.6 C723.4,263.0 721.8,268.8 723.3,271.3 C721.6,273.8 723.3,278.6 722.0,281.6 M724.6,264.2 C726.7,263.0 725.1,268.1 726.6,270.6 C724.9,273.1 726.6,278.6 725.7,281.6 M735.2,264.6 C737.3,263.0 735.7,268.5 737.2,271.0 C735.5,273.5 737.2,278.6 735.9,281.6 M738.8,264.5 C740.9,263.6 739.3,268.5 740.8,271.0 C739.1,273.5 740.8,278.6 739.9,281.6 M748.8,263.8 C750.9,263.4 749.3,268.2 750.8,270.7 C749.1,273.2 750.8,278.6 749.8,281.6 M755.0,263.7 C757.1,263.0 755.5,268.6 757.0,271.1 C755.3,273.6 757.0,278.6 755.5,281.6 M766.1,264.1 C768.2,263.5 766.6,269.8 768.1,272.3 C766.4,274.8 768.1,278.6 767.2,281.6 M769.0,264.0 C771.1,263.9 769.5,268.2 771.0,270.7 C769.3,273.2 771.0,278.6 769.8,281.6 M779.7,264.0 C781.8,263.8 780.2,268.6 781.7,271.1 C780.0,273.6 781.7,278.6 780.3,281.6 M783.1,264.5 C785.2,263.4 783.6,270.2 785.1,272.7 C783.4,275.2 785.1,278.6 783.7,281.6 M792.9,263.6 C795.0,263.7 793.4,269.2 794.9,271.7 C793.2,274.2 794.9,278.6 793.5,281.6" fill="none" stroke="#0a0a0a" stroke-width="1.9" stroke-linecap="round" stroke-linejoin="round"/>
<path d="M582.8,266.6 C584.0,264.6 586.8,265.2 586.2,268.0 C585.8,269.6 584.6,270.0 584.4,271.8 M596.4,266.3 C597.6,264.3 600.4,264.9 599.8,267.7 C599.4,269.3 598.2,269.7 598.0,271.5 M609.8,266.7 C611.0,264.7 613.8,265.3 613.2,268.1 C612.8,269.7 611.6,270.1 611.4,271.9 M627.3,266.9 C628.5,264.9 631.3,265.5 630.7,268.3 C630.3,269.9 629.1,270.3 628.9,272.1 M640.9,267.1 C642.1,265.1 644.9,265.7 644.3,268.5 C643.9,270.1 642.7,270.5 642.5,272.3 M654.3,266.5 C655.5,264.5 658.3,265.1 657.7,267.9 C657.3,269.5 656.1,269.9 655.9,271.7 M671.8,266.6 C673.0,264.6 675.8,265.2 675.2,268.0 C674.8,269.6 673.6,270.0 673.4,271.8 M685.4,266.8 C686.6,264.8 689.4,265.4 688.8,268.2 C688.4,269.8 687.2,270.2 687.0,272.0 M698.8,266.5 C700.0,264.5 702.8,265.1 702.2,267.9 C701.8,269.5 700.6,269.9 700.4,271.7 M716.3,267.1 C717.5,265.1 720.3,265.7 719.7,268.5 C719.3,270.1 718.1,270.5 717.9,272.3 M729.9,266.8 C731.1,264.8 733.9,265.4 733.3,268.2 C732.9,269.8 731.7,270.2 731.5,272.0 M743.3,266.7 C744.5,264.7 747.3,265.3 746.7,268.1 C746.3,269.7 745.1,270.1 744.9,271.9 M760.8,267.0 C762.0,265.0 764.8,265.6 764.2,268.4 C763.8,270.0 762.6,270.4 762.4,272.2 M774.4,266.8 C775.6,264.8 778.4,265.4 777.8,268.2 C777.4,269.8 776.2,270.2 776.0,272.0 M787.8,266.8 C789.0,264.8 791.8,265.4 791.2,268.2 C790.8,269.8 789.6,270.2 789.4,272.0" fill="none" stroke="#0a0a0a" stroke-width="1.9" stroke-linecap="round" stroke-linejoin="round"/>
<path d="M586.5,285.3 L587.9,282.4 L589.9,285.2 M589.2,285.9 L590.6,282.4 L592.6,285.1 M600.2,285.8 L601.6,282.4 L603.6,285.4 M603.7,285.7 L605.1,282.4 L607.1,284.9 M613.8,285.8 L615.2,282.4 L617.2,284.6 M619.9,285.4 L621.3,282.4 L623.3,285.0 M630.7,285.5 L632.1,282.4 L634.1,284.6 M634.0,285.1 L635.4,282.4 L637.4,284.6 M645.0,285.9 L646.4,282.4 L648.4,284.7 M648.3,285.7 L649.7,282.4 L651.7,285.2 M658.0,285.8 L659.4,282.4 L661.4,284.6 M664.2,285.1 L665.6,282.4 L667.6,284.9 M675.2,285.7 L676.6,282.4 L678.6,284.6 M678.4,285.6 L679.8,282.4 L681.8,285.5 M689.5,285.8 L690.9,282.4 L692.9,284.8 M692.7,285.3 L694.1,282.4 L696.1,284.8 M702.4,285.3 L703.8,282.4 L705.8,285.0 M708.8,286.0 L710.2,282.4 L712.2,284.6 M719.8,285.5 L721.2,282.4 L723.2,285.4 M723.1,285.4 L724.5,282.4 L726.5,285.4 M733.7,285.5 L735.1,282.4 L737.1,284.8 M737.3,285.6 L738.7,282.4 L740.7,285.4 M747.3,285.6 L748.7,282.4 L750.7,284.8 M753.5,285.8 L754.9,282.4 L756.9,284.6 M764.6,285.8 L766.0,282.4 L768.0,284.8 M767.5,285.4 L768.9,282.4 L770.9,285.3 M778.2,286.0 L779.6,282.4 L781.6,285.4 M781.6,285.6 L783.0,282.4 L785.0,285.4 M791.4,285.2 L792.8,282.4 L794.8,285.1" fill="none" stroke="#0a0a0a" stroke-width="1.5" stroke-linecap="round" stroke-linejoin="round"/>
<path d="M584.2,275.3l0.3,1.2 M597.8,274.7l0.3,1.2 M611.2,275.2l0.3,1.2 M613.0,266.3l0.3,1.2 M612.7,270.5l0.3,1.2 M628.7,275.4l0.3,1.2 M642.3,276.0l0.3,1.2 M655.7,275.2l0.3,1.2 M657.5,266.5l0.3,1.2 M657.2,270.9l0.3,1.2 M673.2,274.8l0.3,1.2 M686.8,275.4l0.3,1.2 M700.2,275.0l0.3,1.2 M702.0,266.0l0.3,1.2 M701.7,270.7l0.3,1.2 M717.7,275.4l0.3,1.2 M731.3,275.1l0.3,1.2 M744.7,275.4l0.3,1.2 M746.5,266.5l0.3,1.2 M746.2,271.1l0.3,1.2 M762.2,276.0l0.3,1.2 M775.8,274.9l0.3,1.2 M789.2,275.1l0.3,1.2 M791.0,266.3l0.3,1.2 M790.7,270.8l0.3,1.2" fill="none" stroke="#0a0a0a" stroke-width="2.0" stroke-linecap="round"/>
<polyline points="580.20,226.80 610.00,228.90 640.00,231.30 673.00,233.80 676.00,230.50" fill="none" stroke-width="2.2" stroke="#0a0a0a" stroke-linejoin="round"/>
<polyline points="694.00,229.50 697.00,225.60 730.00,228.20 765.00,231.20 797.00,233.80 826.00,235.20" fill="none" stroke-width="2.2" stroke="#0a0a0a" stroke-linejoin="round"/>
<path d="M760.6,232.2 L764.2,224.8 L766.4,224.6 L769.6,232.6 Z M773.8,233.2 L777.6,225.4 L780.2,225.2 L784.2,233.6 Z M812.6,235.4 L815.0,229.8 L816.6,229.8 L818.6,235.8 Z" fill="#0a0a0a" stroke="#0a0a0a" stroke-width="0.8" stroke-linejoin="round"/>
<polyline points="494.90,214.00 537.70,214.00 579.60,231.40" fill="none" stroke-width="1.2" />
<polyline points="515.50,281.00 547.00,281.20 579.60,299.00" fill="none" stroke-width="1.2" />
<line x1="580.20" y1="295.50" x2="826.90" y2="295.50" stroke-width="1.35" />
<line x1="580.20" y1="309.40" x2="826.90" y2="309.40" stroke-width="1.35" />
<ellipse cx="586.20" cy="297.70" rx="1.80" ry="2.00" fill="none" stroke-width="1.1"/>
<ellipse cx="591.40" cy="303.80" rx="2.20" ry="2.50" fill="none" stroke-width="1.1"/>
<ellipse cx="599.20" cy="298.50" rx="2.30" ry="3.00" fill="none" stroke-width="1.1"/>
<ellipse cx="604.60" cy="305.60" rx="2.50" ry="3.00" fill="none" stroke-width="1.1"/>
<ellipse cx="616.40" cy="300.00" rx="2.30" ry="3.00" fill="none" stroke-width="1.1"/>
<ellipse cx="621.90" cy="306.00" rx="2.30" ry="3.00" fill="none" stroke-width="1.1"/>
<ellipse cx="631.70" cy="299.80" rx="3.60" ry="2.80" fill="none" stroke-width="1.1"/>
<ellipse cx="637.30" cy="306.40" rx="4.00" ry="3.00" fill="none" stroke-width="1.1"/>
<ellipse cx="645.20" cy="298.80" rx="2.00" ry="2.80" fill="none" stroke-width="1.1"/>
<ellipse cx="650.60" cy="305.70" rx="2.20" ry="3.00" fill="none" stroke-width="1.1"/>
<ellipse cx="657.60" cy="300.30" rx="2.30" ry="2.80" fill="none" stroke-width="1.1"/>
<ellipse cx="663.20" cy="306.00" rx="2.20" ry="3.00" fill="none" stroke-width="1.1"/>
<ellipse cx="675.10" cy="301.00" rx="2.30" ry="2.80" fill="none" stroke-width="1.1"/>
<ellipse cx="680.40" cy="306.70" rx="2.30" ry="2.50" fill="none" stroke-width="1.1"/>
<ellipse cx="690.50" cy="301.00" rx="3.60" ry="2.50" fill="none" stroke-width="1.1"/>
<ellipse cx="695.60" cy="306.40" rx="3.50" ry="2.50" fill="none" stroke-width="1.1"/>
<ellipse cx="702.80" cy="299.80" rx="2.50" ry="2.50" fill="none" stroke-width="1.1"/>
<ellipse cx="708.10" cy="306.00" rx="1.80" ry="2.50" fill="none" stroke-width="1.1"/>
<ellipse cx="715.60" cy="301.30" rx="2.20" ry="3.00" fill="none" stroke-width="1.1"/>
<ellipse cx="721.00" cy="308.40" rx="2.20" ry="3.00" fill="none" stroke-width="1.1"/>
<ellipse cx="732.50" cy="301.70" rx="2.20" ry="3.00" fill="none" stroke-width="1.1"/>
<ellipse cx="737.80" cy="308.90" rx="2.20" ry="3.00" fill="none" stroke-width="1.1"/>
<ellipse cx="747.90" cy="301.70" rx="3.80" ry="2.50" fill="none" stroke-width="1.1"/>
<ellipse cx="753.40" cy="308.90" rx="3.80" ry="2.50" fill="none" stroke-width="1.1"/>
<ellipse cx="761.00" cy="300.20" rx="2.20" ry="3.20" fill="none" stroke-width="1.1"/>
<ellipse cx="766.70" cy="306.00" rx="2.20" ry="3.00" fill="none" stroke-width="1.1"/>
<ellipse cx="773.90" cy="300.50" rx="2.30" ry="3.20" fill="none" stroke-width="1.1"/>
<ellipse cx="779.30" cy="307.90" rx="2.20" ry="3.00" fill="none" stroke-width="1.1"/>
<ellipse cx="791.20" cy="302.00" rx="2.20" ry="3.20" fill="none" stroke-width="1.1"/>
<ellipse cx="796.50" cy="308.90" rx="2.20" ry="2.80" fill="none" stroke-width="1.1"/>
<ellipse cx="807.00" cy="301.70" rx="4.00" ry="2.50" fill="none" stroke-width="1.1"/>
<ellipse cx="812.30" cy="308.90" rx="4.00" ry="2.50" fill="none" stroke-width="1.1"/>
<line x1="579.60" y1="353.70" x2="827.50" y2="353.70" stroke-width="1.35" />
<line x1="472.20" y1="368.30" x2="502.90" y2="368.30" stroke-width="1.35" />
<line x1="472.20" y1="372.70" x2="502.90" y2="372.70" stroke-width="1.35" />
<line x1="502.90" y1="368.30" x2="675.60" y2="368.30" stroke-width="1.35" />
<line x1="502.90" y1="372.70" x2="675.60" y2="372.70" stroke-width="1.35" />
<polyline points="675.60,368.30 701.00,368.30 701.00,342.80 704.80,342.80 704.80,372.70 675.60,372.70" fill="none" stroke-width="1.35" />
<circle cx="502.90" cy="368.40" r="12.00" fill="#fff" stroke-width="1.35"/>
<polyline points="502.90,380.70 492.70,392.70 513.10,392.70 502.90,380.70" fill="none" stroke-width="1.35" stroke-linejoin="miter"/>
<circle cx="675.60" cy="370.40" r="7.40" fill="#fff" stroke-width="1.35"/>
<line x1="670.37" y1="365.17" x2="680.83" y2="375.63" stroke-width="1.2" />
<line x1="670.37" y1="375.63" x2="680.83" y2="365.17" stroke-width="1.2" />
<polygon points="702.80,323.00 697.60,332.40 708.00,332.40" fill="#141414" stroke="#141414" stroke-width="0.4" stroke-linejoin="miter"/>
<line x1="702.80" y1="331.90" x2="702.80" y2="342.80" stroke-width="1.5" />
<polyline points="891.00,368.40 759.30,368.40 759.30,343.20 756.40,343.20 756.40,373.00 891.00,373.00" fill="none" stroke-width="1.35" />
<circle cx="862.80" cy="369.70" r="12.40" fill="#fff" stroke-width="1.35"/>
<polyline points="862.80,382.40 852.60,394.50 873.00,394.50 862.80,382.40" fill="none" stroke-width="1.35" />
<circle cx="780.10" cy="371.00" r="7.40" fill="#fff" stroke-width="1.35"/>
<line x1="774.87" y1="365.77" x2="785.33" y2="376.23" stroke-width="1.2" />
<line x1="774.87" y1="376.23" x2="785.33" y2="365.77" stroke-width="1.2" />
<polygon points="757.90,323.50 752.70,332.80 763.10,332.80" fill="#141414" stroke="#141414" stroke-width="0.4" stroke-linejoin="miter"/>
<line x1="757.90" y1="332.30" x2="757.90" y2="343.20" stroke-width="1.5" />
<polygon points="570.20,360.50 561.00,355.70 561.00,365.30" fill="#141414" stroke="#141414" stroke-width="0.4" stroke-linejoin="miter"/>
<line x1="545.70" y1="360.50" x2="561.50" y2="360.50" stroke-width="1.5" />
<text x="473.30" y="349.20" font-size="14.7" class="lab" >蠕动进水泵</text>
<text x="667.60" y="339.20" font-size="14.7" class="lab" >废水</text>
<text x="764.20" y="339.90" font-size="14.7" class="lab" >空气</text>
<text x="854.40" y="346.20" font-size="14.7" class="lab" >气泵</text>
<text x="477.50" y="204.20" font-size="14.7" class="lab" >球墨铸铁填料</text>
<text x="477.50" y="274.00" font-size="14.7" class="lab" >砾石布水层</text>
<text x="833.00" y="103.60" font-size="14.7" class="lab" >出水口</text>
<text transform="translate(694.60,412.60) scale(0.80,1)" font-size="17.3" letter-spacing="0.7" class="cap capl">(b) 1</text>
<text transform="translate(723.70,404.90) scale(0.85,1)" font-size="7.2" class="cap capl" style="stroke-width:0.35">#</text>
<text x="727.80" y="412.90" font-size="16.3" letter-spacing="0.6" class="cap">反应器</text>
</g>
<text x="347.6" y="434.9" class="ttl" font-size="17.4" letter-spacing="0.1">图1</text>
<text x="398.0" y="434.9" class="ttl" font-size="17.4" letter-spacing="1.18">两种微电解反应器</text>
</svg>
</body>
</html>
